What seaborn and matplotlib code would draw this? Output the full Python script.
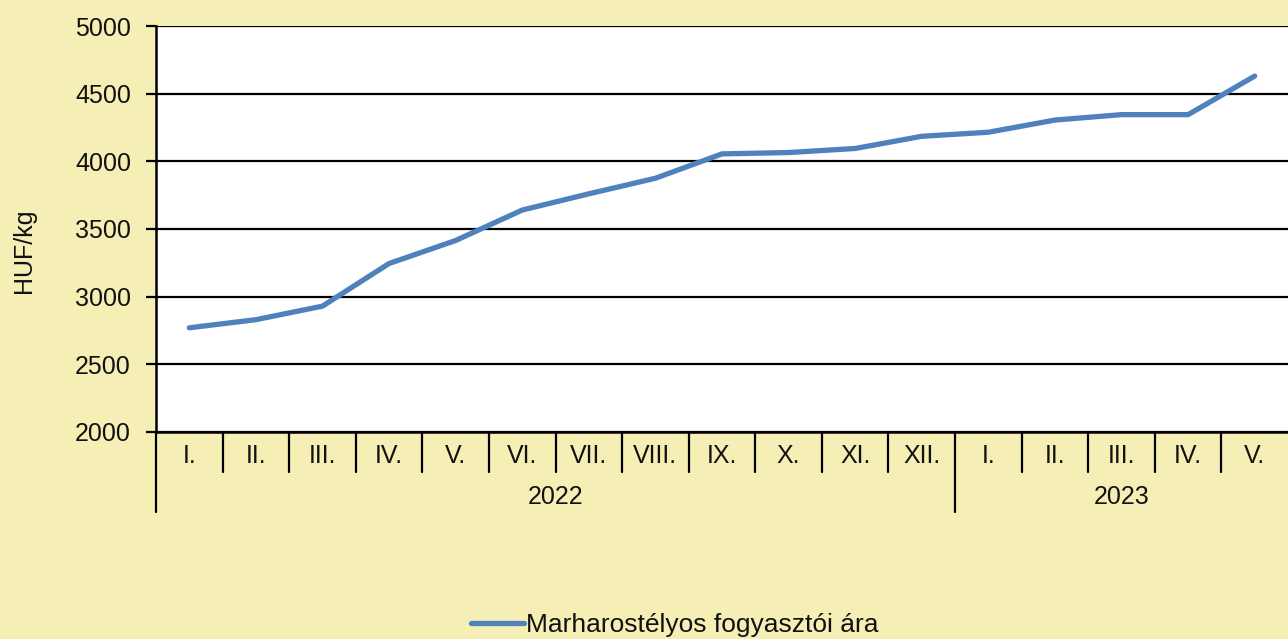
import matplotlib
matplotlib.use("Agg")
import matplotlib.pyplot as plt
import matplotlib.transforms as mtransforms
import seaborn as sns
import pandas as pd
from matplotlib.lines import Line2D

# ---- data ----
months = ["I.", "II.", "III.", "IV.", "V.", "VI.", "VII.", "VIII.", "IX.", "X.", "XI.", "XII.",
          "I.", "II.", "III.", "IV.", "V."]
years = ["2022", "2023"]
year_counts = [12, 5]
prices = [2770, 2830, 2930, 3245, 3415, 3640, 3760, 3875, 4055, 4065, 4095, 4185,
          4215, 4305, 4345, 4345, 4630]
series_name = "Marharostélyos fogyasztói ára"
y_ticks = [2000, 2500, 3000, 3500, 4000, 4500, 5000]
y_label = "HUF/kg"

BG = "#F5EFB5"
LINE = "#4F81BD"

sns.set_theme(style="white")
plt.rcParams["font.family"] = ["Liberation Sans", "DejaVu Sans"]

W, H = 1288, 639
fig = plt.figure(figsize=(W / 100, H / 100), dpi=100)
fig.patch.set_facecolor(BG)
ax = fig.add_axes([156 / W, (H - 432) / H, 1132 / W, 406 / H])
ax.set_facecolor("white")

df = pd.DataFrame({"pos": list(range(len(months))), "price": prices, "series": series_name})
sns.lineplot(data=df, x="pos", y="price", hue="series", palette=[LINE], lw=3.8,
             ax=ax, legend=False, solid_capstyle="round")

ax.set_xlim(-0.5, len(months) - 0.5)
ax.set_ylim(y_ticks[0], y_ticks[-1])
ax.set_yticks(y_ticks)
ax.set_yticklabels([str(t) for t in y_ticks], fontsize=18, color="#111111")
ax.tick_params(axis="y", length=7, width=1.6, color="black", pad=11, left=True)
ax.set_xticks([])
ax.set_xlabel("")
ax.grid(axis="y", color="black", lw=1.6)
ax.set_axisbelow(True)

for s in ["top", "right"]:
    ax.spines[s].set_visible(False)
for s in ["left", "bottom"]:
    ax.spines[s].set_color("black")
    ax.spines[s].set_linewidth(1.8)

ax.set_ylabel(y_label, fontsize=18, color="#111111")
ax.yaxis.set_label_coords(-0.106, 0.447)

trans = mtransforms.blended_transform_factory(ax.transData, ax.transAxes)
# month labels & separators
for i, m in enumerate(months):
    ax.text(i, -0.059, m, transform=trans, ha="center", va="center", fontsize=18, color="#111111")
year_bounds = [0]
for c in year_counts:
    year_bounds.append(year_bounds[-1] + c)
for k in range(1, len(months)):
    if k in year_bounds:
        continue
    ax.plot([k - 0.5, k - 0.5], [0, -0.0985], transform=trans, color="black", lw=1.6,
            clip_on=False)
for b in year_bounds[:-1]:
    ax.plot([b - 0.5, b - 0.5], [0, -0.197], transform=trans, color="black", lw=1.6,
            clip_on=False)
for j, y in enumerate(years):
    center = (year_bounds[j] + year_bounds[j + 1] - 1) / 2
    ax.text(center, -0.16, y, transform=trans, ha="center", va="center", fontsize=18,
            color="#111111")

# legend
handle = Line2D([], [], color=LINE, lw=3.8, solid_capstyle="round")
leg = fig.legend([handle], [series_name], loc="center", bbox_to_anchor=(0.524, 1 - 625 / H),
                 frameon=False, fontsize=19, handlelength=2.0, handletextpad=0.1)
for t in leg.get_texts():
    t.set_color("#111111")

fig.savefig("out.png", dpi=100, facecolor=BG)
